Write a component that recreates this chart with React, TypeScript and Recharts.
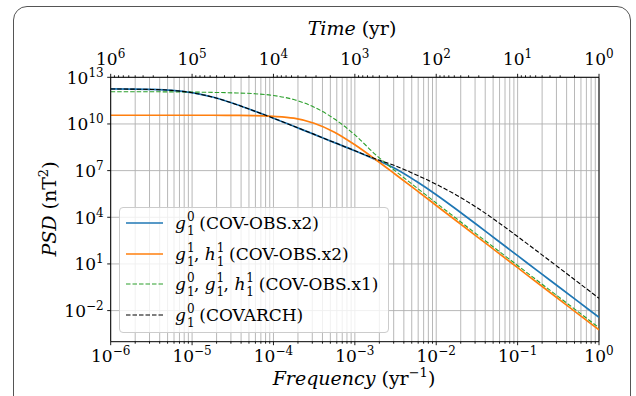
import React from "react";
import {
  LineChart,
  Line,
  XAxis,
  YAxis,
  CartesianGrid,
  ReferenceLine,
  Legend,
} from "recharts";

// frequency, log10(yr^-1)
const logFreq = [
  -6, -5.75, -5.5, -5.25, -5, -4.75, -4.5, -4.25, -4, -3.75, -3.5, -3.25, -3,
  -2.75, -2.5, -2.25, -2, -1.75, -1.5, -1.25, -1, -0.75, -0.5, -0.25, 0,
];

// PSD, log10(nT^2)
const g10ObsX2 = [
  12.25, 12.24, 12.22, 12.16, 12.01, 11.73, 11.33, 10.86, 10.37, 9.85, 9.33,
  8.8, 8.28, 7.72, 7.12, 6.33, 5.45, 4.5, 3.52, 2.52, 1.53, 0.54, -0.45, -1.44,
  -2.43,
];
const g11h11ObsX2 = [
  10.56, 10.56, 10.56, 10.56, 10.56, 10.56, 10.55, 10.54, 10.49, 10.37, 10.05,
  9.47, 8.66, 7.73, 6.75, 5.76, 4.76, 3.76, 2.76, 1.76, 0.76, -0.24, -1.24,
  -2.24, -3.24,
];
const allObsX1 = [
  12.07, 12.07, 12.07, 12.06, 12.05, 12.03, 12.0, 11.95, 11.83, 11.57, 11.08,
  10.32, 9.3, 8.05, 6.97, 5.94, 4.92, 3.91, 2.9, 1.9, 0.9, -0.1, -1.1, -2.1,
  -3.1,
];
const g10Covarch = [
  12.25, 12.24, 12.22, 12.16, 12.01, 11.73, 11.33, 10.86, 10.37, 9.85, 9.33,
  8.8, 8.28, 7.76, 7.3, 6.74, 6.12, 5.42, 4.62, 3.72, 2.76, 1.78, 0.79, -0.21,
  -1.21,
];

const seriesKeys = ["g10ObsX2", "g11h11ObsX2", "allObsX1", "g10Covarch"];
const seriesCoefs = [
  [["g", "1", "0"]],
  [["g", "1", "1"], ["h", "1", "1"]],
  [["g", "1", "0"], ["g", "1", "1"], ["h", "1", "1"]],
  [["g", "1", "0"]],
];
const seriesModels = ["COV-OBS.x2", "COV-OBS.x2", "COV-OBS.x1", "COVARCH"];
const seriesColors = ["#1f77b4", "#ff7f0e", "#2ca02c", "#000000"];
const seriesDash = [undefined, undefined, "4.5 2", "4.5 2"];
const seriesWidth = [1.7, 1.7, 1.1, 1.1];

const xMajor = [1e-6, 1e-5, 1e-4, 1e-3, 1e-2, 1e-1, 1];
const yMajor = [1e-2, 1e1, 1e4, 1e7, 1e10, 1e13];

const decades = [-6, -5, -4, -3, -2, -1];
const mult = [2, 3, 4, 5, 6, 7, 8, 9];
const xMinor = decades.flatMap((d) => mult.map((k) => k * Math.pow(10, d)));
// minor ticks of the time axis (T = k * 10^n yr)
const topMinor = [0, 1, 2, 3, 4, 5].flatMap((n) =>
  mult.map((k) => 1 / (k * Math.pow(10, n)))
);

const data = logFreq.map((lf, i) => ({
  f: Math.pow(10, lf),
  g10ObsX2: Math.pow(10, g10ObsX2[i]),
  g11h11ObsX2: Math.pow(10, g11h11ObsX2[i]),
  allObsX1: Math.pow(10, allObsX1[i]),
  g10Covarch: Math.pow(10, g10Covarch[i]),
}));

const FONT = "DejaVu Serif";

const isMajor = (v: number) => {
  const e = Math.log10(v);
  return Math.abs(e - Math.round(e)) < 1e-6;
};

const fmtExp = (e: number) => (e < 0 ? "\u2212" + Math.abs(e) : String(e));

const PowText = ({ x, y, exp, anchor, supDy = -7.5 }: any) => (
  <text x={x} y={y} textAnchor={anchor} fontFamily={FONT} fontSize={17} fill="#000">
    <tspan>10</tspan>
    <tspan dy={supDy} fontSize={12}>
      {fmtExp(exp)}
    </tspan>
  </text>
);

const BottomTick = (props: any) => {
  const { x, y, payload } = props;
  const major = isMajor(payload.value);
  return (
    <g>
      <line x1={x} x2={x} y1={y} y2={y + (major ? 3.5 : 2)} stroke="#000" strokeWidth={0.9} />
      {major && (
        <PowText x={x} y={y + 20.5} exp={Math.round(Math.log10(payload.value))} anchor="middle" />
      )}
    </g>
  );
};

const TopTick = (props: any) => {
  const { x, y, payload } = props;
  const major = isMajor(payload.value);
  return (
    <g>
      <line x1={x} x2={x} y1={y} y2={y - (major ? 3.5 : 2)} stroke="#000" strokeWidth={0.9} />
      {major && (
        <PowText x={x} y={y - 12} exp={-Math.round(Math.log10(payload.value))} anchor="middle" />
      )}
    </g>
  );
};

const LeftTick = (props: any) => {
  const { x, y, payload } = props;
  return (
    <g>
      <line x1={x - 3.5} x2={x} y1={y} y2={y} stroke="#000" strokeWidth={0.9} />
      <PowText
        x={x - 7}
        y={y + 6.5}
        exp={Math.round(Math.log10(payload.value))}
        anchor="end"
        supDy={-7}
      />
    </g>
  );
};

const Coef = ({ c }: { c: string[] }) => (
  <span>
    <span style={{ fontStyle: "italic" }}>{c[0]}</span>
    <span style={{ display: "inline-block", position: "relative", width: 8, height: 17 }}>
      <span style={{ position: "absolute", left: 1, top: -7, fontSize: 12 }}>{c[2]}</span>
      <span style={{ position: "absolute", left: 1, top: 7, fontSize: 12 }}>{c[1]}</span>
    </span>
  </span>
);

const LegendBox = () => (
  <div
    style={{
      position: "relative",
      width: 270,
      height: 126,
      boxSizing: "border-box",
      background: "rgba(255,255,255,0.8)",
      border: "1px solid #cccccc",
      borderRadius: 4,
      fontFamily: FONT,
      fontSize: 17,
      color: "#000",
    }}
  >
    {seriesKeys.map((k, i) => (
      <div
        key={k}
        style={{
          position: "absolute",
          left: 0,
          top: 15.3 + 30.4 * i - 12,
          height: 24,
          display: "flex",
          alignItems: "center",
          whiteSpace: "nowrap",
        }}
      >
        <svg width={50} height={24} style={{ marginLeft: 5 }}>
          <line
            x1={1}
            x2={38}
            y1={12}
            y2={12}
            stroke={seriesColors[i]}
            strokeWidth={seriesWidth[i]}
            strokeDasharray={seriesDash[i]}
          />
        </svg>
        <span style={{ lineHeight: "24px" }}>
          {seriesCoefs[i].map((c, j) => (
            <React.Fragment key={j}>
              {j > 0 && ", "}
              <Coef c={c} />
            </React.Fragment>
          ))}
          {" (" + seriesModels[i] + ")"}
        </span>
      </div>
    ))}
  </div>
);

const XTitle = () => (
  <text x={354} y={385} textAnchor="middle" fontFamily={FONT} fontSize={19} fill="#000">
    <tspan fontStyle="italic">Frequency</tspan>
    <tspan> (yr</tspan>
    <tspan dy={-8} fontSize={13}>{"\u22121"}</tspan>
    <tspan dy={8}>)</tspan>
  </text>
);

const TopTitle = () => (
  <text x={352} y={35} textAnchor="middle" fontFamily={FONT} fontSize={19} fill="#000">
    <tspan fontStyle="italic">Time</tspan>
    <tspan> (yr)</tspan>
  </text>
);

const YTitle = () => (
  <text
    x={56}
    y={209}
    transform="rotate(-90, 56, 209)"
    textAnchor="middle"
    fontFamily={FONT}
    fontSize={19}
    fill="#000"
  >
    <tspan fontStyle="italic">PSD</tspan>
    <tspan> (nT</tspan>
    <tspan dy={-8} fontSize={13}>2</tspan>
    <tspan dy={8}>)</tspan>
  </text>
);

export default function App() {
  return (
    <div style={{ position: "absolute", left: 0, top: 0, width: 636, height: 396, background: "#fff", overflow: "hidden" }}>
      <div
        style={{
          position: "absolute",
          left: 13,
          top: 6,
          width: 618,
          height: 460,
          boxSizing: "border-box",
          border: "1.5px solid #555",
          borderRadius: 14,
        }}
      />
      <div style={{ position: "absolute", left: 0, top: 0 }}>
        <LineChart
          width={636}
          height={396}
          data={data}
          margin={{ top: 76.3, right: 37, bottom: 53.3, left: 109.7 }}
        >
          <CartesianGrid
            stroke="#b0b0b0"
            strokeWidth={0.9}
            verticalValues={[...xMajor, ...xMinor]}
            horizontalValues={yMajor}
          />
          <XAxis
            dataKey="f"
            type="number"
            scale="log"
            domain={[1e-6, 1]}
            allowDataOverflow
            ticks={[...xMajor, ...xMinor]}
            interval={0}
            height={1}
            tickSize={0}
            tickMargin={0}
            tickLine={false}
            tick={<BottomTick />}
            axisLine={{ stroke: "#000", strokeWidth: 1 }}
            label={<XTitle />}
          />
          <XAxis
            xAxisId="top"
            dataKey="f"
            orientation="top"
            type="number"
            scale="log"
            domain={[1e-6, 1]}
            allowDataOverflow
            ticks={[...xMajor, ...topMinor]}
            interval={0}
            height={1}
            tickSize={0}
            tickMargin={0}
            tickLine={false}
            tick={<TopTick />}
            axisLine={{ stroke: "#000", strokeWidth: 1 }}
            label={<TopTitle />}
          />
          <YAxis
            type="number"
            scale="log"
            domain={[1e-4, 1e13]}
            allowDataOverflow
            ticks={yMajor}
            interval={0}
            width={1}
            tickSize={0}
            tickMargin={0}
            tickLine={false}
            tick={<LeftTick />}
            axisLine={{ stroke: "#000", strokeWidth: 1 }}
            label={<YTitle />}
          />
          <ReferenceLine x={1} stroke="#000" strokeWidth={1} />
          {seriesKeys.map((k, i) => (
            <Line
              key={k}
              dataKey={k}
              type="monotone"
              stroke={seriesColors[i]}
              strokeWidth={seriesWidth[i]}
              strokeDasharray={seriesDash[i]}
              dot={false}
              activeDot={false}
              isAnimationActive={false}
            />
          ))}
          {/* keeps the time axis attached to the data so that it draws its ticks */}
          <Line
            xAxisId="top"
            dataKey="g10ObsX2"
            stroke="none"
            dot={false}
            activeDot={false}
            legendType="none"
            isAnimationActive={false}
          />
          <Legend
            verticalAlign="middle"
            align="center"
            layout="horizontal"
            content={() => <LegendBox />}
            wrapperStyle={{ left: 119, top: 207, width: 270, height: 126 }}
          />
        </LineChart>
      </div>
    </div>
  );
}
